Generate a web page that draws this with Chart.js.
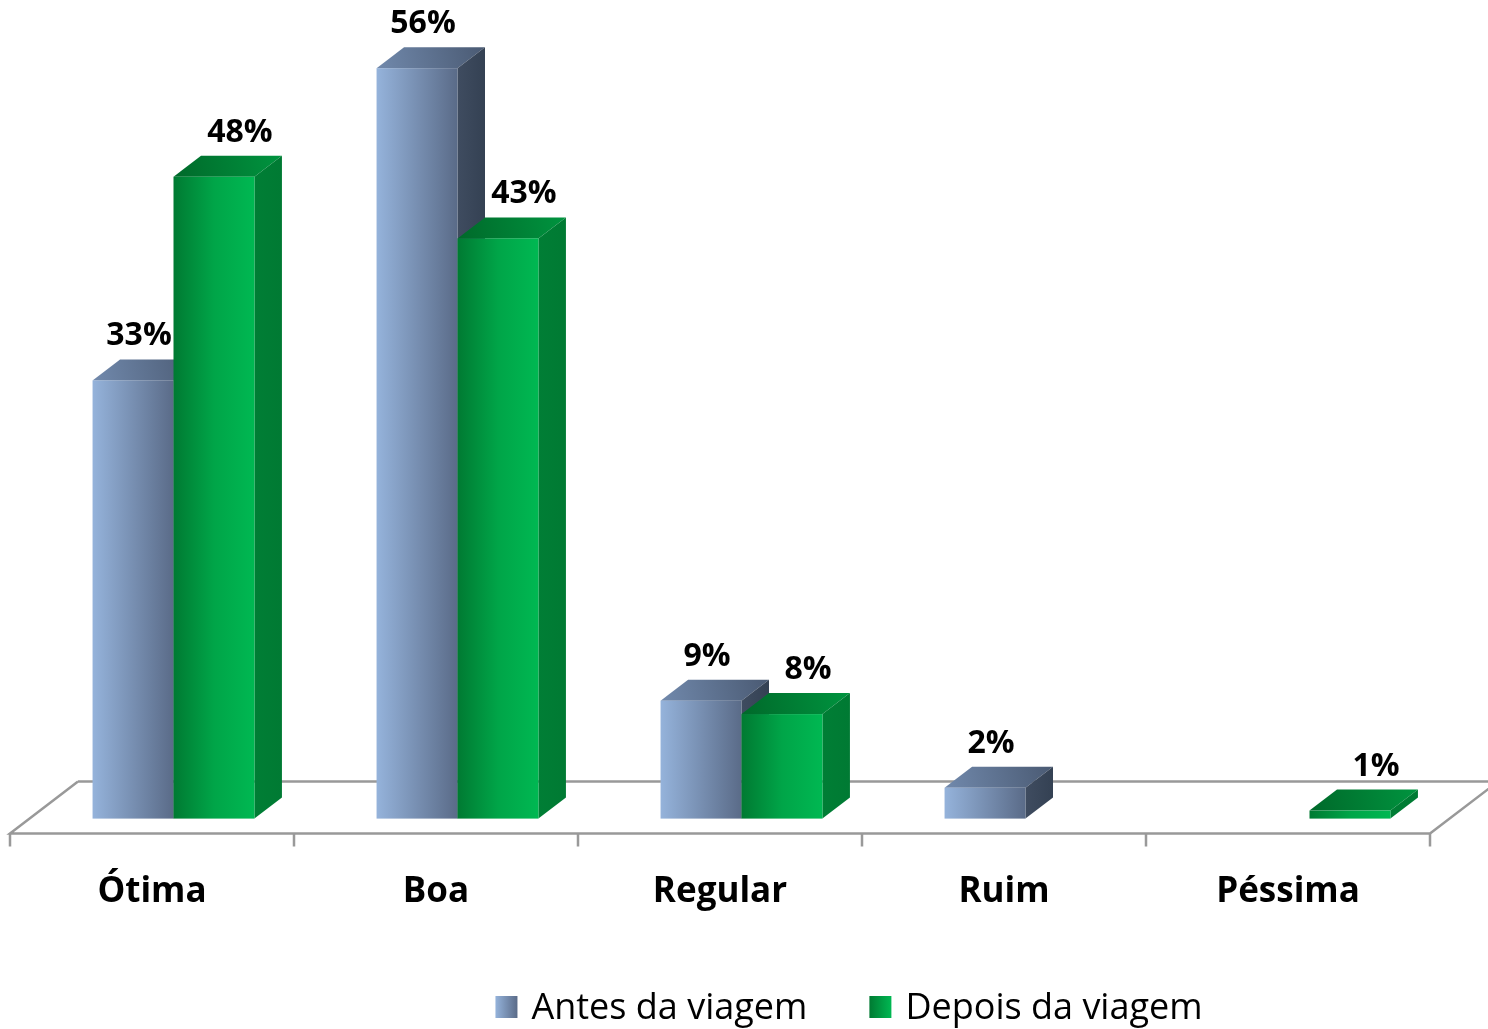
<!DOCTYPE html>
<html>
<head>
<meta charset="utf-8">
<script src="https://cdn.jsdelivr.net/npm/chart.js@4.4.0/dist/chart.umd.min.js"></script>
<style>
html,body{margin:0;padding:0;background:#ffffff;overflow:hidden}
#wrap{width:1488px;height:1029px;position:relative}
canvas{display:block}
</style>
</head>
<body>
<div id="wrap"><canvas id="c" width="1488" height="1029"></canvas></div>
<script>
// ---- data ----
const categories = ['Ótima', 'Boa', 'Regular', 'Ruim', 'Péssima'];
const seriesNames = ['Antes da viagem', 'Depois da viagem'];
const antes = [32.7, 56.0, 8.8, 2.3, 0];
const depois = [47.9, 43.3, 7.8, 0, 0.6];
const yMin = 0;
const yMax = 60;

// ---- styles ----
const FONT = '"Open Sans", "Liberation Sans", sans-serif';
const BAR_DX = 27.5, BAR_DY = 21;          // bar depth
const FLOOR_DX = 68, FLOOR_DY = 52;        // floor depth
const SHIFT_X = 21.5, SHIFT_Y = 15;        // bars sit this far behind floor front edge
const palettes = [
  { front: ['#95B3DB', '#5A6B88'], top: ['#7189AC', '#4A5A73'], side: ['#3F4C60', '#344153'], legend: ['#95B3DB', '#5A6B88'] },
  { front: ['#007A32', '#00A548', '#00B852'], top: ['#00692A', '#00943F'], side: ['#007E35', '#007A33'], legend: ['#007A32', '#00B852'] }
];
const labelShift = [6, 26];

Chart.defaults.font.family = FONT;

function lin(ctx, x0, y0, x1, y1, stops) {
  const g = ctx.createLinearGradient(x0, y0, x1, y1);
  stops.forEach((c, i) => g.addColorStop(stops.length === 1 ? 0 : i / (stops.length - 1), c));
  return g;
}

const floorPlugin = {
  id: 'floor3d',
  beforeDatasetsDraw(chart) {
    const ctx = chart.ctx;
    const xs = chart.scales.x;
    const area = chart.chartArea;
    const fy = area.bottom + SHIFT_Y;
    const fl = area.left - SHIFT_X;
    const fr = area.right - SHIFT_X;
    ctx.save();
    ctx.strokeStyle = '#999999';
    ctx.lineWidth = 2.5;
    ctx.lineJoin = 'miter';
    ctx.beginPath();
    ctx.moveTo(fl + FLOOR_DX, fy - FLOOR_DY);
    ctx.lineTo(fl, fy);
    ctx.lineTo(fr, fy);
    ctx.lineTo(fr + FLOOR_DX, fy - FLOOR_DY);
    ctx.lineTo(fl + FLOOR_DX, fy - FLOOR_DY);
    ctx.stroke();
    // category boundary ticks
    const n = categories.length;
    const cw = (xs.right - xs.left) / n;
    ctx.beginPath();
    for (let i = 0; i <= n; i++) {
      const px = xs.getPixelForValue(0) - cw / 2 + i * cw - SHIFT_X;
      ctx.moveTo(px, fy);
      ctx.lineTo(px, fy + 13);
    }
    ctx.stroke();
    ctx.restore();
  },
  beforeDatasetDraw() { return false; },
  afterDatasetsDraw(chart) {
    const ctx = chart.ctx;
    const metas = chart.data.datasets.map((d, i) => chart.getDatasetMeta(i));
    ctx.save();
    for (let j = 0; j < categories.length; j++) {
      metas.forEach((meta, di) => {
        const v = chart.data.datasets[di].data[j];
        if (!v) return;
        const el = meta.data[j];
        const p = el.getProps(['x', 'y', 'base', 'width'], true);
        const l = p.x - p.width / 2, r = p.x + p.width / 2, t = p.y, b = p.base;
        const pal = palettes[di];
        // top
        ctx.fillStyle = lin(ctx, l, t, r + BAR_DX, t - BAR_DY, pal.top);
        ctx.beginPath();
        ctx.moveTo(l, t); ctx.lineTo(l + BAR_DX, t - BAR_DY); ctx.lineTo(r + BAR_DX, t - BAR_DY); ctx.lineTo(r, t);
        ctx.closePath(); ctx.fill();
        // side
        ctx.fillStyle = lin(ctx, r, 0, r + BAR_DX, 0, pal.side);
        ctx.beginPath();
        ctx.moveTo(r, t); ctx.lineTo(r + BAR_DX, t - BAR_DY); ctx.lineTo(r + BAR_DX, b - BAR_DY); ctx.lineTo(r, b);
        ctx.closePath(); ctx.fill();
        // front
        ctx.fillStyle = lin(ctx, l, 0, r, 0, pal.front);
        ctx.fillRect(l, t, r - l, b - t);
      });
    }
    // value labels
    ctx.fillStyle = '#000000';
    ctx.font = 'bold 32px ' + FONT;
    ctx.textAlign = 'center';
    ctx.textBaseline = 'alphabetic';
    metas.forEach((meta, di) => {
      meta.data.forEach((el, j) => {
        const v = chart.data.datasets[di].data[j];
        if (!v) return;
        const p = el.getProps(['x', 'y'], true);
        ctx.fillText(Math.round(v) + '%', p.x + labelShift[di], p.y - BAR_DY - 14);
      });
    });
    ctx.restore();
  },
  afterDraw(chart) {
    // legend
    const ctx = chart.ctx;
    ctx.save();
    ctx.font = '36px ' + FONT;
    const box = 22, gapText = 14, gapItems = 62;
    const names = chart.data.datasets.map(d => d.label);
    const widths = names.map(s => ctx.measureText(s).width);
    const total = widths.reduce((a, w) => a + box + gapText + w, 0) + gapItems * (names.length - 1);
    let x = 849 - total / 2;
    const boxTop = 996, baseLine = 1019;
    names.forEach((s, i) => {
      ctx.fillStyle = lin(ctx, x, 0, x + box, 0, palettes[i].legend);
      ctx.fillRect(x, boxTop, box, box);
      ctx.fillStyle = '#000000';
      ctx.textAlign = 'left';
      ctx.textBaseline = 'alphabetic';
      ctx.fillText(s, x + box + gapText, baseLine);
      x += box + gapText + widths[i] + gapItems;
    });
    ctx.restore();
  }
};

new Chart(document.getElementById('c'), {
  type: 'bar',
  data: {
    labels: categories,
    datasets: [
      { label: seriesNames[0], data: antes, backgroundColor: '#7F9BC2' },
      { label: seriesNames[1], data: depois, backgroundColor: '#00A045' }
    ]
  },
  options: {
    responsive: false,
    devicePixelRatio: 1,
    animation: false,
    layout: { padding: { left: 31.5, right: 36.5, top: 14.6, bottom: 64.4 } },
    datasets: { bar: { categoryPercentage: 0.57, barPercentage: 1.0 } },
    plugins: { legend: { display: false }, tooltip: { enabled: false } },
    scales: {
      x: {
        grid: { display: false, drawTicks: false },
        border: { display: false },
        ticks: { font: { family: FONT, size: 35, weight: 'bold' }, color: '#000000', padding: 52, labelOffset: -SHIFT_X }
      },
      y: { display: false, min: yMin, max: yMax }
    }
  },
  plugins: [floorPlugin]
});
</script>
</body>
</html>
